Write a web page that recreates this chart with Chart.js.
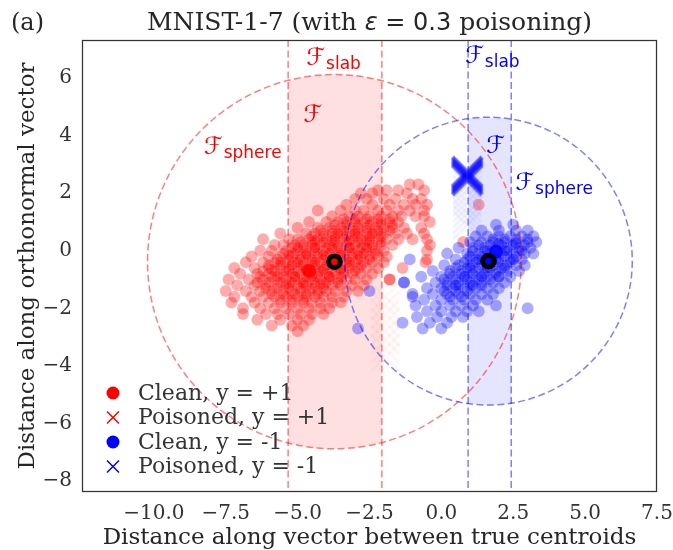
<!DOCTYPE html>
<html><head><meta charset="utf-8">
<script src="https://cdn.jsdelivr.net/npm/chart.js@4.4.0/dist/chart.umd.min.js"></script>
<style>html,body{margin:0;padding:0;background:#fff;} #wrap{width:673px;height:550px;position:relative;}</style>
</head><body><div id="wrap"><canvas id="c" width="673" height="550"></canvas></div>
<script>
// ---------- axes ----------
const xRange = [-12.5, 7.5];
const yRange = [-8.38, 7.32];
const xTicks = [-10, -7.5, -5, -2.5, 0, 2.5, 5, 7.5];
const xTickLabels = ['\u221210.0','\u22127.5','\u22125.0','\u22122.5','0.0','2.5','5.0','7.5'];
const yTicks = [-8, -6, -4, -2, 0, 2, 4, 6];
const yTickLabels = ['\u22128','\u22126','\u22124','\u22122','0','2','4','6'];
const titleText = ['MNIST-1-7 (with ', '\u03b5', ' = 0.3', ' poisoning)'];
const panelLabel = '(a)';
const xTitle = 'Distance along vector between true centroids';
const yTitle = 'Distance along orthonormal vector';

// ---------- feasible sets ----------
const redSphere = {cx: -3.72, cy: -0.38, r: 6.5};
const blueSphere = {cx: 1.64, cy: -0.36, r: 5.0};
const redSlab = [-5.33, -2.07];
const blueSlab = [0.93, 2.43];
const labelsF = [ // [x, y, subscript, class]
  [-3.75, 6.71, 'slab', 'red'],
  [-4.48, 4.73, '', 'red'],
  [-6.91, 3.62, 'sphere', 'red'],
  [1.77, 6.78, 'slab', 'blue'],
  [1.88, 3.65, '', 'blue'],
  [3.92, 2.37, 'sphere', 'blue']
];

// ---------- clean points, rows of [y, [x...]] ----------
const redCleanRows = [
 [2.3, [-0.8, -1.1]],
 [2.1, [-2.2, -1.9, -1.5, -0.6]],
 [2.0, [-2.8, -2.4, -1.2]],
 [1.8, [-3.0, -2.6, -2.0, -1.6, -1.0, -0.7]],
 [1.6, [-3.3, -2.4, -1.8, -1.3, -0.9, -0.5]],
 [1.4, [-4.3, -3.5, -3.0, -2.7, -2.2, -1.9, -1.5, -1.1, -0.6]],
 [1.2, [-3.8, -3.2, -2.9, -2.5, -2.1, -1.7, -1.4, -0.9]],
 [1.0, [-4.6, -4.0, -3.6, -3.3, -3.0, -2.7, -2.4, -2.1, -1.8, -1.5, -0.4]],
 [0.8, [-5.0, -4.3, -3.9, -3.5, -3.2, -2.9, -2.6, -2.3, -2.0, -1.7, -1.3, -0.7]],
 [0.6, [-5.6, -4.7, -4.4, -4.1, -3.8, -3.5, -3.2, -2.9, -2.6, -2.3, -2.0, -1.6, -1.2, -0.6]],
 [0.4, [-6.2, -5.3, -5.0, -4.6, -4.3, -4.0, -3.7, -3.4, -3.1, -2.8, -2.5, -2.2, -1.9, -1.5, -0.5]],
 [0.2, [-5.8, -5.5, -5.1, -4.8, -4.5, -4.2, -3.9, -3.6, -3.3, -3.0, -2.7, -2.4, -2.1, -1.7]],
 [0.0, [-6.3, -5.9, -5.4, -5.0, -4.7, -4.4, -4.1, -3.8, -3.5, -3.2, -2.9, -2.6, -2.3, -2.0, -0.5]],
 [-0.2, [-6.6, -6.0, -5.6, -5.2, -4.9, -4.6, -4.3, -4.0, -3.7, -3.4, -3.1, -2.8, -2.5, -2.2, -1.9]],
 [-0.4, [-6.8, -6.2, -5.8, -5.4, -5.1, -4.8, -4.5, -4.2, -3.9, -3.6, -3.3, -3.0, -2.7, -2.4, -2.0, -0.55]],
 [-0.6, [-7.2, -6.5, -6.0, -5.6, -5.3, -5.0, -4.7, -4.4, -4.1, -3.8, -3.5, -3.2, -2.9, -2.6, -2.2, -1.35]],
 [-0.8, [-7.0, -6.4, -6.0, -5.6, -5.2, -4.9, -4.6, -4.3, -4.0, -3.7, -3.4, -3.1, -2.8, -2.4]],
 [-1.0, [-7.4, -6.7, -6.2, -5.8, -5.4, -5.1, -4.8, -4.5, -4.2, -3.9, -3.6, -3.3, -3.0, -2.6, -1.8]],
 [-1.2, [-7.1, -6.5, -6.1, -5.7, -5.3, -5.0, -4.7, -4.4, -4.1, -3.8, -3.5, -3.1, -2.7]],
 [-1.4, [-7.5, -6.8, -6.3, -5.9, -5.5, -5.2, -4.9, -4.6, -4.3, -4.0, -3.7, -3.3, -2.9]],
 [-1.6, [-7.2, -6.6, -6.2, -5.8, -5.4, -5.0, -4.7, -4.4, -4.1, -3.8, -3.4]],
 [-1.8, [-7.3, -6.5, -6.0, -5.6, -5.2, -4.8, -4.5, -4.2, -3.8, -3.5]],
 [-2.0, [-6.9, -6.3, -5.8, -5.4, -5.0, -4.6, -4.2, -3.9]],
 [-2.2, [-6.9, -6.1, -5.7, -5.3, -4.9, -4.5, -4.1]],
 [-2.4, [-6.4, -5.6, -5.0, -4.6]],
 [-2.6, [-5.9, -5.2, -4.8]],
 [-2.8, [-5.0]]
];
const redCoreRows = [
 [1.1, [-3.4, -3.0, -2.6, -2.2, -1.8]],
 [0.9, [-3.7, -3.3, -2.9, -2.5, -2.1, -1.7]],
 [0.7, [-4.2, -3.8, -3.4, -3.0, -2.6, -2.2, -1.8]],
 [0.5, [-4.5, -4.1, -3.7, -3.3, -2.9, -2.5, -2.1]],
 [0.3, [-4.9, -4.5, -4.1, -3.7, -3.3, -2.9, -2.5, -2.1]],
 [0.1, [-5.2, -4.8, -4.4, -4.0, -3.6, -3.2, -2.8, -2.4]],
 [-0.1, [-5.5, -5.1, -4.7, -4.3, -3.9, -3.5, -3.1, -2.7, -2.3]],
 [-0.3, [-5.7, -5.3, -4.9, -4.5, -4.1, -3.7, -3.3, -2.9, -2.5]],
 [-0.5, [-6.0, -5.6, -5.2, -4.8, -4.4, -4.0, -3.6, -3.2, -2.8]],
 [-0.7, [-6.2, -5.8, -5.4, -5.0, -4.6, -4.2, -3.8, -3.4, -3.0]],
 [-0.9, [-6.3, -5.9, -5.5, -5.1, -4.7, -4.3, -3.9, -3.5]],
 [-1.1, [-6.4, -6.0, -5.6, -5.2, -4.8, -4.4, -4.0, -3.6]],
 [-1.3, [-6.1, -5.7, -5.3, -4.9, -4.5, -4.1]],
 [-1.5, [-5.9, -5.5, -5.1, -4.7, -4.3]],
 [-1.7, [-5.6, -5.2, -4.8]]
];
const redDenseRows = [
 [0.6, [-3.6, -3.0, -2.4]],
 [0.35, [-4.4, -3.8, -3.2, -2.6]],
 [0.1, [-5.0, -4.4, -3.8, -3.2, -2.6]],
 [-0.15, [-5.3, -4.7, -4.1, -3.5, -2.9]],
 [-0.4, [-5.6, -5.0, -4.4, -3.8, -3.2]],
 [-0.65, [-5.9, -5.3, -4.7, -4.1, -3.5]],
 [-0.9, [-5.7, -5.1, -4.5, -3.9]],
 [-1.15, [-5.4, -4.8, -4.2]]
];
const redOutliers = [[-0.4, 0.2], [-0.5, -0.3], [-1.8, -1.0], [0.76, 0.3], [1.3, 1.6], [-0.6, 1.2], [-1.0, 0.4]];

const blueCleanRows = [
 [0.9, [1.9, 2.5]],
 [0.7, [1.4, 2.0, 2.6, 3.0]],
 [0.5, [1.2, 1.6, 2.0, 2.4, 2.8, 3.2]],
 [0.3, [1.0, 1.4, 1.8, 2.2, 2.6, 3.0, 3.3]],
 [0.1, [0.6, 1.1, 1.5, 1.9, 2.3, 2.7, 3.1]],
 [-0.1, [0.2, 0.9, 1.3, 1.7, 2.1, 2.5, 2.9, 3.2]],
 [-0.3, [-1.1, 0.5, 0.9, 1.2, 1.6, 2.0, 2.4, 2.8]],
 [-0.5, [0.1, 0.6, 1.0, 1.4, 1.8, 2.2, 2.6, 2.9]],
 [-0.7, [-0.3, 0.3, 0.7, 1.1, 1.5, 1.9, 2.3, 2.7]],
 [-0.9, [-0.7, 0.0, 0.4, 0.8, 1.2, 1.6, 2.0, 2.4]],
 [-1.1, [-1.3, -0.2, 0.2, 0.6, 1.0, 1.4, 1.8, 2.2]],
 [-1.3, [-0.5, 0.0, 0.4, 0.8, 1.2, 1.6, 2.0]],
 [-1.5, [-1.0, -0.3, 0.2, 0.6, 1.0, 1.4, 1.8]],
 [-1.7, [-0.6, 0.0, 0.4, 0.8, 1.2, 1.6]],
 [-1.9, [-0.9, -0.2, 0.3, 0.7, 1.1, 1.9]],
 [-2.1, [-0.5, 0.0, 0.5, 0.9, 1.3]],
 [-2.3, [-0.85, -0.15, 0.35, 0.75]],
 [-2.5, [-1.35, -0.4, 0.2]],
 [-2.7, [-0.65, 0.0]]
];
const blueCoreRows = [
 [0.4, [1.8, 2.2, 2.6, 3.0]],
 [0.2, [1.3, 1.7, 2.1, 2.5, 2.9]],
 [0.0, [1.1, 1.5, 1.9, 2.3, 2.7]],
 [-0.2, [1.0, 1.4, 1.8, 2.2, 2.6]],
 [-0.4, [0.8, 1.2, 1.6, 2.0, 2.4]],
 [-0.6, [0.5, 0.9, 1.3, 1.7, 2.1]],
 [-0.8, [0.3, 0.7, 1.1, 1.5, 1.9]],
 [-1.0, [0.1, 0.5, 0.9, 1.3, 1.7]],
 [-1.2, [0.2, 0.6, 1.0, 1.4]],
 [-1.4, [0.1, 0.5, 0.9]],
 [-1.6, [0.3, 0.7]]
];
const blueDenseRows = [
 [0.25, [2.0, 2.6]],
 [0.0, [1.6, 2.2, 2.8]],
 [-0.3, [1.3, 1.9, 2.5]],
 [-0.6, [1.0, 1.6, 2.2]],
 [-0.9, [0.8, 1.4, 2.0]],
 [-1.2, [0.5, 1.1]]
];
const blueOutliers = [[-2.9, -2.7], [-2.5, -1.4], [-1.3, -1.1], [-1.0, -1.6], [3.0, -2.0]];

// ---------- poisoned points ----------
const redPoisonX = [-1.95, -1.95, -1.95, -1.95, -1.95, -1.95, -1.95, -1.95];
const redPoisonY = [-1.6, -1.9, -2.2, -2.5, -2.8, -3.1, -3.4, -3.7];
const bluePoisonX = [0.9, 0.9, 0.9, 0.9, 0.9, 0.9, 0.9];
const bluePoisonY = [2.45, 2.5, 2.55, 2.6, 2.65, 2.7, 2.75];
const blueTrailY = [2.3, 2.1, 1.9, 1.7, 1.5, 1.3, 1.1, 0.9];

// ---------- centroids ----------
const centroids = [[-3.72, -0.38, 'red'], [1.64, -0.36, 'blue']];
const bigDots = [[-4.6, -0.7, 'red'], [1.9, -0.03, 'blue']];

// ---------- legend ----------
const legendLabels = ['Clean, y = +1', 'Poisoned, y = +1', 'Clean, y = -1', 'Poisoned, y = -1'];
const legendClasses = ['red', 'red', 'blue', 'blue'];
const legendMarkers = ['circle', 'x', 'circle', 'x'];

const COL = {red: '255,0,0', blue: '0,0,255'};

function rowsToPoints(rows) {
  const out = [];
  rows.forEach(([y, xs]) => xs.forEach(x => out.push({x, y})));
  return out;
}
const pairs = a => a.map(([x, y]) => ({x, y}));
const zipXY = (xs, ys) => xs.map((x, i) => ({x, y: ys[i]}));

const cloudStyle = c => ({
  pointRadius: 6, pointBackgroundColor: `rgba(${COL[c]},0.33)`,
  pointBorderColor: 'rgba(255,255,255,0.12)', pointBorderWidth: 1, showLine: false
});

const datasets = [
  Object.assign({order: 7, data: rowsToPoints(redCleanRows).concat(rowsToPoints(redCoreRows), rowsToPoints(redDenseRows), pairs(redOutliers))}, cloudStyle('red')),
  Object.assign({order: 6, data: rowsToPoints(blueCleanRows).concat(rowsToPoints(blueCoreRows), rowsToPoints(blueDenseRows), pairs(blueOutliers))}, cloudStyle('blue')),
  {order: 5, data: zipXY(redPoisonX, redPoisonY), pointStyle: 'crossRot', pointRadius: 20, pointBorderWidth: 3,
   pointBorderColor: 'rgba(255,0,0,0.04)', pointBackgroundColor: 'rgba(0,0,0,0)'},
  {order: 4, data: blueTrailY.map(y => ({x: bluePoisonX[0], y})), pointStyle: 'crossRot', pointRadius: 20, pointBorderWidth: 3,
   pointBorderColor: 'rgba(0,0,255,0.05)', pointBackgroundColor: 'rgba(0,0,0,0)'},
  {order: 3, data: zipXY(bluePoisonX, bluePoisonY), pointStyle: 'crossRot', pointRadius: 21, pointBorderWidth: 4.5,
   pointBorderColor: 'rgba(0,0,255,0.4)', pointBackgroundColor: 'rgba(0,0,0,0)'},
  {order: 2, data: bigDots.map(([x, y]) => ({x, y})), pointRadius: 7, pointBorderWidth: 0,
   pointBackgroundColor: bigDots.map(d => `rgba(${COL[d[2]]},0.85)`)},
  {order: 1, data: centroids.map(([x, y]) => ({x, y})), pointRadius: 5.8, pointBorderWidth: 5, pointBorderColor: '#000',
   pointBackgroundColor: centroids.map(d => `rgb(${COL[d[2]]})`)}
];

const SERIF = '"DejaVu Serif", "Liberation Serif", serif';
const SANS = '"DejaVu Sans", sans-serif';

const decorPlugin = {
  id: 'decor',
  beforeDatasetsDraw(chart) {
    const {ctx, chartArea: a, scales: {x: sx, y: sy}} = chart;
    ctx.save();
    ctx.beginPath(); ctx.rect(a.left, a.top, a.right - a.left, a.bottom - a.top); ctx.clip();
    [[redSphere, redSlab, 'rgba(255,0,0,0.12)'], [blueSphere, blueSlab, 'rgba(0,0,255,0.10)']].forEach(([s, slab, fill]) => {
      const cx = sx.getPixelForValue(s.cx), cy = sy.getPixelForValue(s.cy);
      const rx = sx.getPixelForValue(s.cx + s.r) - cx, ry = cy - sy.getPixelForValue(s.cy + s.r);
      ctx.save();
      ctx.beginPath(); ctx.ellipse(cx, cy, rx, ry, 0, 0, Math.PI * 2); ctx.clip();
      const x0 = sx.getPixelForValue(slab[0]), x1 = sx.getPixelForValue(slab[1]);
      ctx.fillStyle = fill; ctx.fillRect(x0, a.top, x1 - x0, a.bottom - a.top);
      ctx.restore();
    });
    ctx.restore();
  },
  afterDatasetsDraw(chart) {
    const {ctx, chartArea: a, scales: {x: sx, y: sy}} = chart;
    ctx.save();
    ctx.beginPath(); ctx.rect(a.left, a.top, a.right - a.left, a.bottom - a.top); ctx.clip();
    ctx.lineWidth = 1.5; ctx.setLineDash([7, 3.5]);
    [[redSphere, redSlab, 'red'], [blueSphere, blueSlab, 'blue']].forEach(([s, slab, c]) => {
      ctx.strokeStyle = `rgba(${COL[c]},0.5)`;
      const cx = sx.getPixelForValue(s.cx), cy = sy.getPixelForValue(s.cy);
      const rx = sx.getPixelForValue(s.cx + s.r) - cx, ry = cy - sy.getPixelForValue(s.cy + s.r);
      ctx.beginPath(); ctx.ellipse(cx, cy, rx, ry, 0, 0, Math.PI * 2); ctx.stroke();
      slab.forEach(v => {
        const px = sx.getPixelForValue(v);
        ctx.beginPath(); ctx.moveTo(px, a.top); ctx.lineTo(px, a.bottom); ctx.stroke();
      });
    });
    ctx.setLineDash([]);
    // F labels
    labelsF.forEach(([x, y, sub, c]) => {
      const cx = sx.getPixelForValue(x), cy = sy.getPixelForValue(y);
      ctx.fillStyle = `rgb(${COL[c]})`;
      ctx.textBaseline = 'alphabetic'; ctx.textAlign = 'left';
      ctx.font = `italic 24px ${SANS}`;
      const wF = ctx.measureText('\u2131').width;
      ctx.font = `17px ${SANS}`;
      const wS = sub ? ctx.measureText(sub).width + 1 : 0;
      const x0 = cx - (wF + wS) / 2;
      ctx.font = `italic 24px ${SANS}`;
      ctx.fillText('\u2131', x0, cy + 7);
      if (sub) { ctx.font = `17px ${SANS}`; ctx.fillText(sub, x0 + wF + 1, cy + 11); }
    });
    ctx.restore();
  },
  afterDraw(chart) {
    const {ctx, chartArea: a} = chart;
    ctx.save();
    // frame
    ctx.strokeStyle = '#333'; ctx.lineWidth = 1.25;
    ctx.strokeRect(a.left + 0.5, a.top + 0.5, a.right - a.left - 1, a.bottom - a.top - 1);
    // title
    ctx.fillStyle = '#262626'; ctx.textBaseline = 'alphabetic';
    const fonts = [`25px ${SERIF}`, `italic 24px ${SANS}`, `24px ${SANS}`, `25px ${SERIF}`];
    let widths = titleText.map((t, i) => { ctx.font = fonts[i]; return ctx.measureText(t).width; });
    let tx = (a.left + a.right) / 2 - widths.reduce((p, q) => p + q, 0) / 2;
    titleText.forEach((t, i) => { ctx.font = fonts[i]; ctx.textAlign = 'left'; ctx.fillText(t, tx, 30); tx += widths[i]; });
    ctx.font = `24px ${SERIF}`; ctx.fillText(panelLabel, 11, 30);
    // legend
    legendLabels.forEach((lab, i) => {
      const y = 393 + i * 24.5, mx = 113;
      const c = COL[legendClasses[i]];
      if (legendMarkers[i] === 'circle') {
        ctx.fillStyle = `rgb(${c})`; ctx.beginPath(); ctx.arc(mx, y, 6.5, 0, Math.PI * 2); ctx.fill();
      } else {
        ctx.strokeStyle = `rgb(${c})`; ctx.lineWidth = 1.5; ctx.beginPath();
        ctx.moveTo(mx - 6, y - 6); ctx.lineTo(mx + 6, y + 6); ctx.moveTo(mx + 6, y - 6); ctx.lineTo(mx - 6, y + 6); ctx.stroke();
      }
      ctx.fillStyle = '#333'; ctx.font = `22px ${SERIF}`; ctx.textBaseline = 'middle';
      ctx.fillText(lab, 138, y + 1);
    });
    ctx.restore();
  }
};

new Chart(document.getElementById('c'), {
  type: 'scatter',
  data: {datasets},
  options: {
    responsive: false, animation: false, events: [],
    layout: {autoPadding: false, padding: {top: 40, right: 16, left: 0, bottom: 0}},
    plugins: {legend: {display: false}, tooltip: {enabled: false}, title: {display: false}},
    scales: {
      x: {
        type: 'linear', min: xRange[0], max: xRange[1],
        afterBuildTicks: s => { s.ticks = xTicks.map(v => ({value: v})); },
        afterFit: s => { s.height = 58; s.paddingLeft = 0; s.paddingRight = 0; },
        grid: {display: false, drawTicks: true, tickLength: 10}, border: {display: false},
        ticks: {autoSkip: false, maxRotation: 0, padding: 0, color: '#333',
          font: {family: SERIF, size: 20}, callback: v => xTickLabels[xTicks.indexOf(v)]},
        title: {display: true, text: xTitle, color: '#262626', font: {family: SERIF, size: 23, lineHeight: 1.2}, padding: {top: 0, bottom: -2}}
      },
      y: {
        type: 'linear', min: yRange[0], max: yRange[1],
        afterBuildTicks: s => { s.ticks = yTicks.map(v => ({value: v})); },
        afterFit: s => { s.width = 82; s.paddingTop = 0; s.paddingBottom = 0; },
        grid: {display: false, drawTicks: true, tickLength: 10}, border: {display: false},
        ticks: {padding: 0, color: '#333', font: {family: SERIF, size: 20}, callback: v => yTickLabels[yTicks.indexOf(v)]},
        title: {display: true, text: yTitle, color: '#262626', font: {family: SERIF, size: 23, lineHeight: 1.2}, padding: {top: 14, bottom: 0}}
      }
    }
  },
  plugins: [decorPlugin]
});
</script>
</body></html>
